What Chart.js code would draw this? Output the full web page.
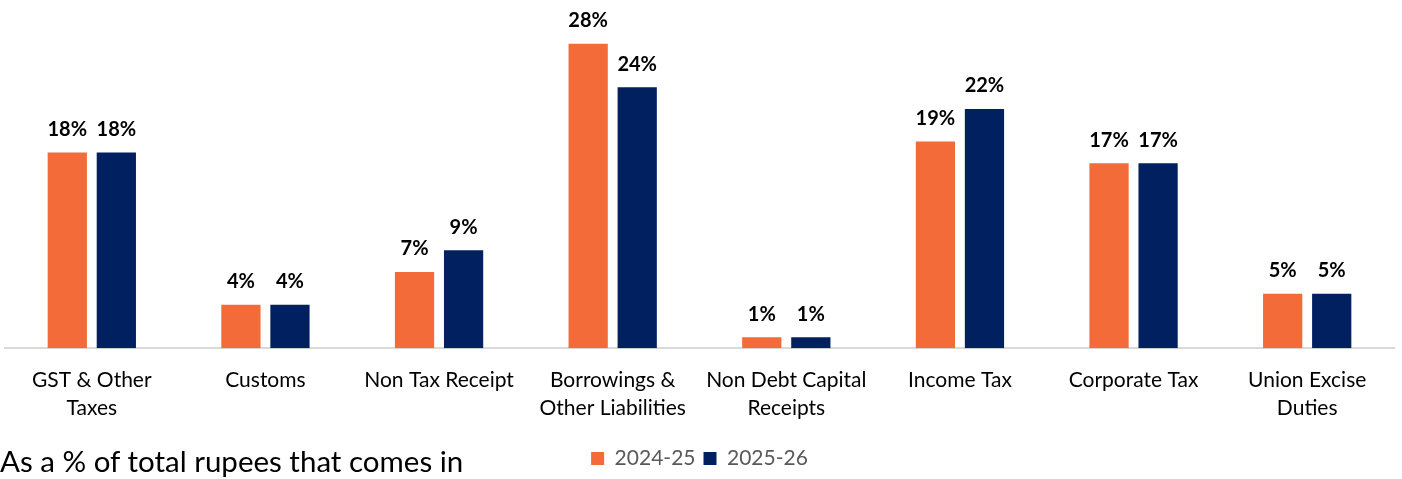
<!DOCTYPE html>
<html lang="en">
<head>
    <meta charset="UTF-8">
    <title>Rupee comes from</title>
    <script src="https://cdn.jsdelivr.net/npm/chart.js"></script>
    <style>
        html, body { margin: 0; padding: 0; background: #fff; }
        #wrap { position: relative; width: 1402px; height: 479px; }
        #note {
            position: absolute; left: 0; top: 443px;
            font-family: Lato, "Open Sans", sans-serif; font-size: 29.5px; color: #000;
        }
    </style>
</head>
<body>
    <div id="wrap">
        <canvas id="revenue-chart" width="1402" height="479"></canvas>
        <div id="note">As a % of total rupees that comes in</div>
    </div>

    <script>
        const categories = [
            ['GST & Other', 'Taxes'],
            'Customs',
            'Non Tax Receipt',
            ['Borrowings &', 'Other Liabilities'],
            ['Non Debt Capital', 'Receipts'],
            'Income Tax',
            'Corporate Tax',
            ['Union Excise', 'Duties']
        ];
        const share2024 = [18, 4, 7, 28, 1, 19, 17, 5];
        const share2025 = [18, 4, 9, 24, 1, 22, 17, 5];

        // draw "NN%" above every bar
        const barLabels = {
            id: 'barLabels',
            afterDatasetsDraw(chart) {
                const ctx = chart.ctx;
                ctx.save();
                ctx.font = 'bold 20px Lato, "Open Sans", sans-serif';
                ctx.fillStyle = '#000';
                ctx.textAlign = 'center';
                ctx.textBaseline = 'bottom';
                chart.data.datasets.forEach((ds, i) => {
                    chart.getDatasetMeta(i).data.forEach((bar, j) => {
                        ctx.fillText(ds.data[j] + '%', bar.x, bar.y - 13);
                    });
                });
                ctx.restore();
            }
        };

        new Chart(document.getElementById('revenue-chart'), {
            type: 'bar',
            data: {
                labels: categories,
                datasets: [
                    { label: '2024-25', data: share2024, backgroundColor: '#F26B38' },
                    { label: '2025-26', data: share2025, backgroundColor: '#002060' }
                ]
            },
            options: {
                responsive: false,
                animation: false,
                devicePixelRatio: 1,
                categoryPercentage: 0.565,
                barPercentage: 0.8,
                layout: { padding: { left: 5, right: 8, top: 22, bottom: 0 } },
                plugins: {
                    tooltip: { enabled: false },
                    legend: {
                        position: 'bottom',
                        labels: {
                            boxWidth: 13, boxHeight: 13, padding: 8,
                            color: '#595959',
                            font: { family: 'Lato, "Open Sans", sans-serif', size: 21 }
                        }
                    }
                },
                scales: {
                    x: {
                        grid: { display: false, drawTicks: false },
                        border: { color: '#d9d9d9', width: 2 },
                        ticks: {
                            color: '#000', padding: 18, maxRotation: 0, autoSkip: false,
                            font: { family: 'Lato, "Open Sans", sans-serif', size: 21, lineHeight: 1.33 }
                        }
                    },
                    y: {
                        display: false,
                        min: 0, max: 30
                    }
                }
            },
            plugins: [barLabels]
        });
    </script>
</body>
</html>
